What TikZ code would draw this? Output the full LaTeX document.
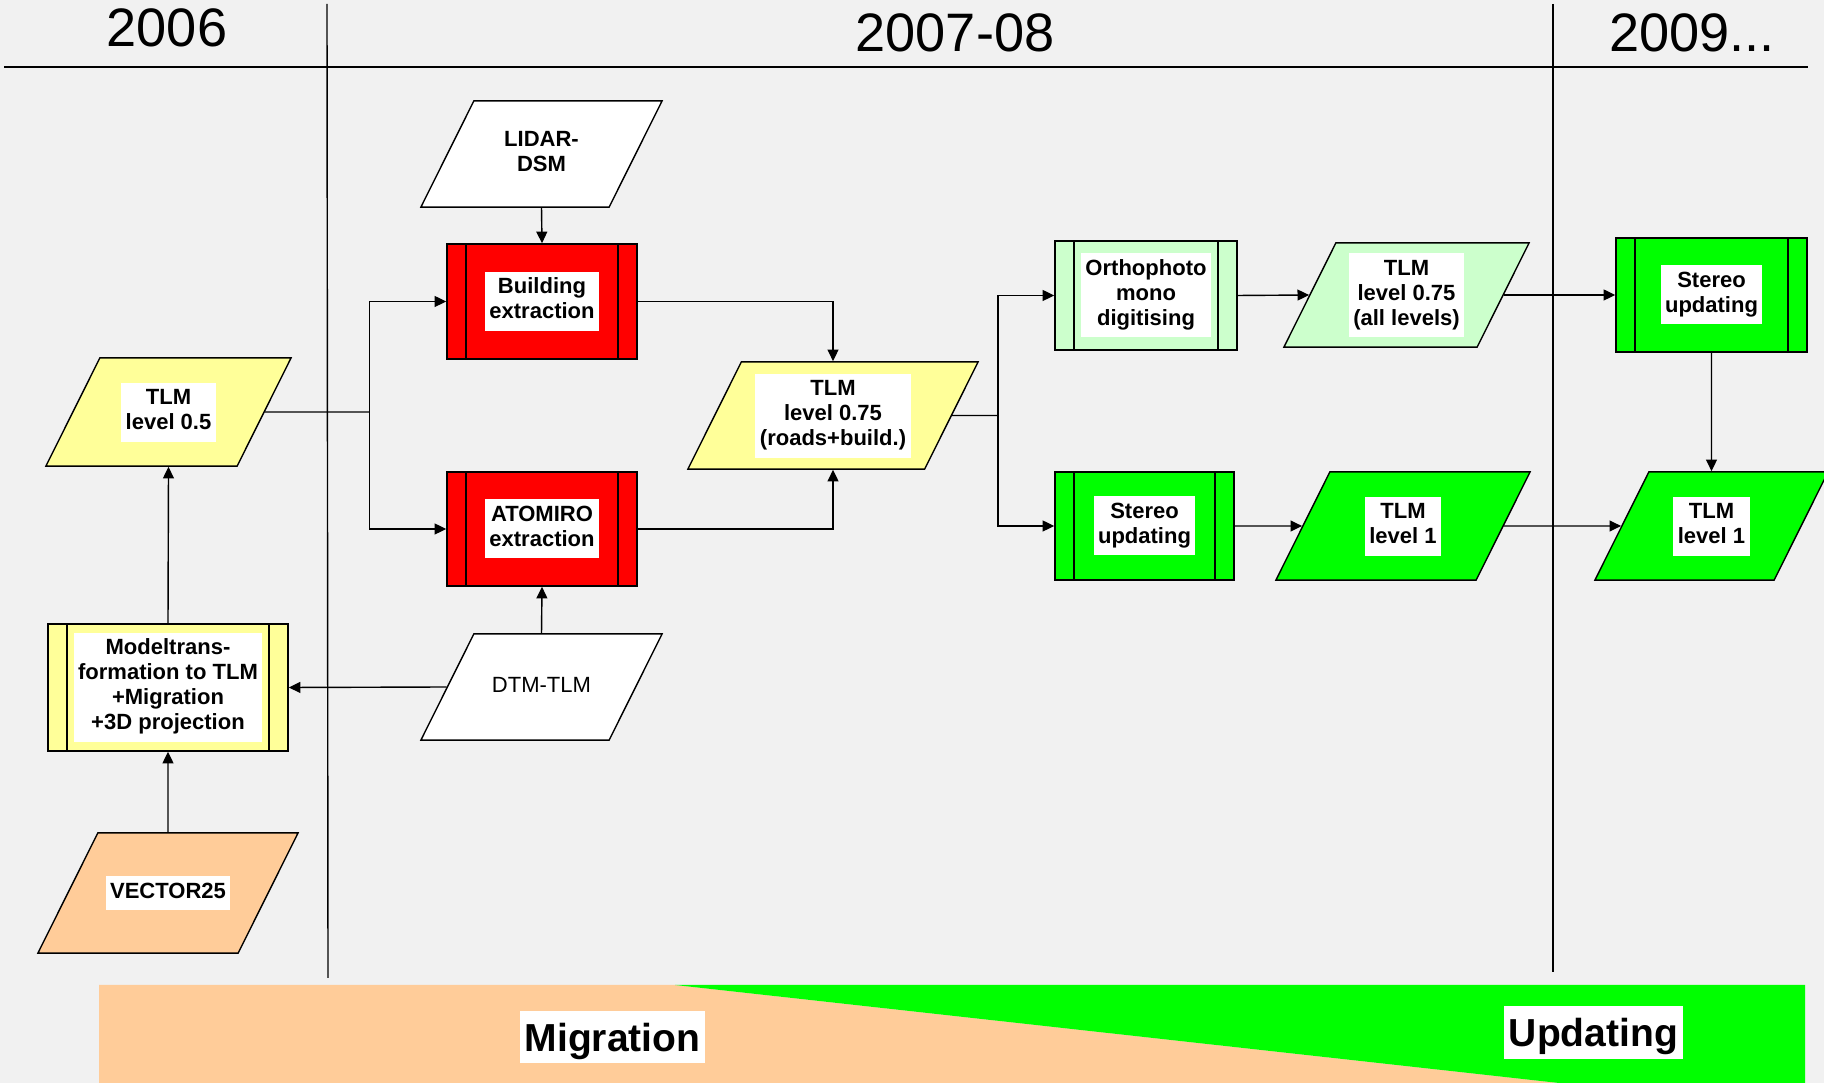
\documentclass[tikz,border=0pt]{standalone}
\usepackage{fontspec}
\setmainfont{Liberation Sans}
\usetikzlibrary{shapes.geometric,arrows.meta}

\definecolor{bgray}{RGB}{241,241,241}
\definecolor{lyellow}{RGB}{255,255,153}
\definecolor{peach}{RGB}{255,204,153}
\definecolor{lgreen}{RGB}{204,255,204}
\definecolor{fgreen}{RGB}{0,255,0}

\newcommand{\tbox}[1]{{\setlength{\fboxsep}{1.28pt}\colorbox{white}{\begin{tabular}{@{}c@{}}#1\end{tabular}}}}

\begin{document}
\begin{tikzpicture}
        [
            x = 0.01cm, y = -0.01cm,
            every node/.style = {font = \fontsize{6.26pt}{7.11pt}\selectfont\bfseries},
            data/.style 2 args = {shape = trapezium, trapezium left angle = 63.5, trapezium right angle = 116.5,
                trapezium stretches body = true, draw = black, line width = 0.4pt, inner sep = 0pt, fill = #1,
                minimum height = #2*0.01cm, text height = #2*0.005cm+0.055cm, text depth = #2*0.005cm-0.055cm},
            proc/.style = {rectangle, draw = black, line width = 0.4pt, inner sep = 0pt, fill = #1,
                path picture = {
                    \draw ([xshift=0.19cm]path picture bounding box.north west) -- ([xshift=0.19cm]path picture bounding box.south west);
                    \draw ([xshift=-0.19cm]path picture bounding box.north east) -- ([xshift=-0.19cm]path picture bounding box.south east);
                }},
            link/.style = {-{Triangle[length=3.3pt, width=3.1pt]}, line width = 0.4pt},
            year/.style = {font = \fontsize{15.4pt}{18pt}\selectfont},
            phase/.style = {fill = white, inner xsep = 1.28pt, inner ysep = 0pt, anchor = base,
                text height = 0.41cm, font = \fontsize{11.1pt}{13pt}\selectfont\bfseries}
        ]

        \fill[bgray] (0,0) rectangle (1824,1083);
        \useasboundingbox (0,0) rectangle (1824,1083);

        % time line
        \draw[line width = 0.45pt] (4,67) -- (1808,67);
        \draw (327,4) -- (328,978);
        \draw (1553,4) -- (1553,972);
        \node[year] (y06) at (167,28) {2006};
        \node[year] (y07) at (955,33) {2007-08};
        \node[year] (y09) at (1692,33) {2009...};

        % phases
        \fill[peach] (99,985) -- (675,985) -- (1559,1083) -- (99,1083) -- cycle;
        \fill[fgreen] (675,985) -- (1805,985) -- (1805,1083) -- (1559,1083) -- cycle;
        \node[phase, text depth = 0.11cm] (migr) at (612.5,1052) {Migration};
        \node[phase, text depth = 0.12cm] (upd) at (1593.5,1047) {Updating};

        \node[data = {white}{106}, minimum width = 2.41cm] (lidar) at (541.5,154) {\tbox{LIDAR-\\DSM}};
        \node[proc = red, minimum width = 1.90cm, minimum height = 1.15cm] (build) at (542,301.5) {\tbox{Building\\extraction}};
        \node[proc = red, minimum width = 1.90cm, minimum height = 1.14cm] (atom) at (542,529) {\tbox{ATOMIRO\\extraction}};
        \node[data = {white}{106}, minimum width = 2.41cm] (dtm) at (541.5,687) {\tbox{\mdseries DTM-TLM}};
        \node[data = {lyellow}{108}, minimum width = 2.45cm] (tlm05) at (168.5,412) {\tbox{TLM\\level 0.5}};
        \node[proc = lyellow, minimum width = 2.40cm, minimum height = 1.27cm] (model) at (168,687.5) {\tbox{Modeltrans-\\formation to TLM\\+Migration\\+3D projection}};
        \node[data = {peach}{120}, minimum width = 2.60cm] (vec) at (168,893) {\tbox{VECTOR25}};
        \node[data = {lyellow}{107}, minimum width = 2.90cm] (tlm075) at (833,415.5) {\tbox{TLM\\level 0.75\\(roads+build.)}};
        \node[proc = lgreen, minimum width = 1.82cm, minimum height = 1.09cm] (ortho) at (1146,295.5) {\tbox{Orthophoto\\mono\\digitising}};
        \node[proc = fgreen, minimum width = 1.79cm, minimum height = 1.08cm] (stereo) at (1144.5,526) {\tbox{Stereo\\updating}};
        \node[data = {lgreen}{104}, minimum width = 2.45cm] (tlm075a) at (1406.5,295) {\tbox{TLM\\level 0.75\\(all levels)}};
        \node[data = {fgreen}{108}, minimum width = 2.54cm] (tlm1) at (1403,526) {\tbox{TLM\\level 1}};
        \node[proc = fgreen, minimum width = 1.91cm, minimum height = 1.14cm] (stereo2) at (1711.5,295) {\tbox{Stereo\\updating}};
        \node[data = {fgreen}{108}, minimum width = 2.33cm] (tlm1r) at (1711.5,526) {\tbox{TLM\\level 1}};

        \coordinate (s1) at (369.5,412);
        \coordinate (s2) at (998,415.5);

        \draw[link] (lidar.south) -- (build.north);
        \draw (tlm05.east) -- (s1);
        \draw[link] (s1) |- (build.west);
        \draw[link] (s1) |- (atom.west);
        \draw[link] (build.east) -| (tlm075.north);
        \draw[link] (atom.east) -| (tlm075.south);
        \draw[link] (dtm.north) -- (atom.south);
        \draw[link] (dtm.west) -- (model.east);
        \draw[link] (vec.north) -- (model.south);
        \draw[link] (model.north) -- (tlm05.south);
        \draw (tlm075.east) -- (s2);
        \draw[link] (s2) |- (ortho.west);
        \draw[link] (s2) |- (stereo.west);
        \draw[link] (ortho.east) -- (tlm075a.west);
        \draw[link] (stereo.east) -- (tlm1.west);
        \draw[link] (tlm075a.east) -- (stereo2.west);
        \draw[link] (stereo2.south) -- (tlm1r.north);
        \draw[link] (tlm1.east) -- (tlm1r.west);
    \end{tikzpicture}
\end{document}
